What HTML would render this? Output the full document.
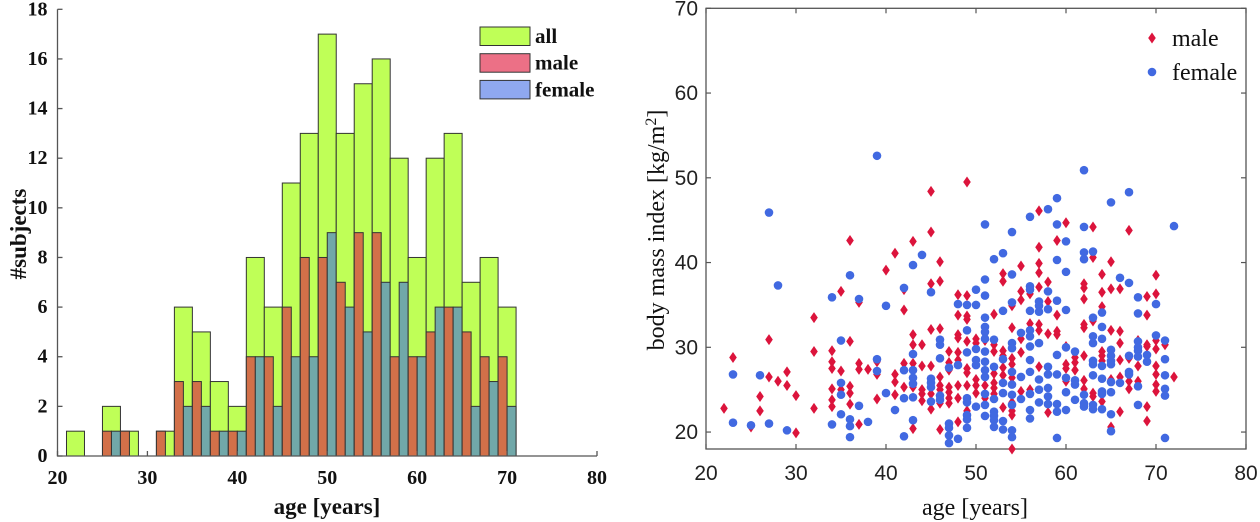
<!DOCTYPE html>
<html><head><meta charset="utf-8">
<style>
html,body{margin:0;padding:0;background:#fff;}
svg{display:block;}
.tl{font-family:"Liberation Serif",serif;font-weight:bold;font-size:20px;fill:#111;}
.tr{font-family:"Liberation Sans",sans-serif;font-size:21px;fill:#222;}
.lbl{font-family:"Liberation Serif",serif;font-size:24px;fill:#111;}
</style></head>
<body>
<svg id="root" width="1260" height="522" viewBox="0 0 1260 522" xmlns="http://www.w3.org/2000/svg">
<g id="hist"></g>
<g id="scat"></g>
</svg>
<script>
// ---------- Histogram data ----------
const binStarts = [21,23,25,27,29,31,33,35,37,39,41,43,45,47,49,51,53,55,57,59,61,63,65,67,69];
const allCounts = [1,0,2,1,0,1,6,5,3,2,8,6,11,13,17,13,15,16,12,8,12,13,7,8,6];
const maleCounts = [0,0,1,1,0,1,3,3,1,1,4,4,6,8,8,7,9,9,4,4,5,6,5,4,4];
const femaleCounts = [0,0,1,0,0,0,2,2,1,1,4,2,4,4,9,6,5,7,7,4,6,6,2,3,2];
const histYTicks = [0,2,4,6,8,10,12,14,16,18];
const histXTicks = [20,30,40,50,60,70,80];

// ---------- Scatter data ----------
const maleAge = [22,23,25,26,26,27,27,28,29,29,30,30,32,32,32,34,34,34,34,34,34,35,35,35,36,36,36,36,36,37,37,37,37,38,39,39,39,40,41,41,41,41,42,42,42,42,43,43,43,43,43,43,44,44,44,44,44,45,45,45,45,45,45,45,46,46,46,46,46,46,46,46,47,47,47,47,47,47,47,48,48,48,48,48,48,48,48,48,49,49,49,49,49,49,49,49,49,50,50,50,50,50,51,51,51,52,52,52,52,52,52,52,53,53,53,53,53,53,53,54,54,54,54,54,54,54,54,54,55,55,55,55,55,55,56,56,56,57,57,57,57,57,57,57,57,58,58,58,58,59,59,59,59,60,60,60,60,60,61,61,61,62,62,62,62,62,62,62,62,63,63,63,63,63,64,64,64,64,64,64,64,65,65,65,65,65,66,66,66,66,66,66,67,67,67,67,68,68,68,69,69,69,69,69,69,70,70,70,70,70,70,70,70,71,72];
const maleBmi = [22.8,28.8,20.6,24.2,22.5,30.9,26.5,26.0,27.1,25.5,24.3,19.9,33.5,29.5,22.8,29.6,28.3,27.5,25.1,23.8,23.0,36.6,27.2,25.0,42.6,30.7,25.4,24.6,23.3,35.3,28.1,27.4,20.9,27.4,28.3,26.8,23.9,39.1,41.1,26.8,25.9,24.4,36.8,34.4,28.1,25.3,42.5,31.5,30.3,28.1,25.3,20.4,30.3,27.8,25.0,24.5,23.7,48.4,43.6,37.5,32.1,27.8,24.5,22.7,40.1,37.8,32.2,26.5,25.5,25.0,23.4,20.3,29.5,28.2,27.3,25.3,24.7,24.0,23.4,36.2,33.8,31.5,31.1,29.4,28.5,25.5,24.0,21.2,49.5,36.1,33.7,33.3,30.7,27.5,27.0,25.5,22.5,31.0,30.5,26.2,25.5,24.6,30.8,25.5,24.0,33.9,30.3,29.5,26.9,25.8,25.2,24.5,38.7,37.8,29.6,29.0,27.6,26.7,22.9,34.9,32.3,28.7,28.0,26.4,23.5,22.5,22.0,18.0,39.6,36.6,35.6,31.0,29.4,24.8,36.3,32.8,25.0,46.1,41.8,39.9,38.8,37.1,32.7,32.0,27.7,37.7,35.4,31.6,22.3,42.6,33.8,31.9,31.5,44.7,30.1,28.0,27.5,26.0,28.8,28.2,27.3,37.5,37.0,35.7,32.7,32.3,29.0,26.1,25.1,44.2,40.6,33.1,24.6,24.2,38.6,36.5,34.8,29.5,29.0,28.4,23.6,40.1,36.9,32.0,26.2,20.6,36.9,31.9,30.5,28.5,26.5,22.4,43.8,28.7,26.0,25.1,30.8,27.8,26.0,36.0,33.8,30.3,30.1,23.0,21.3,38.5,36.3,30.8,29.8,27.8,26.8,25.6,24.8,30.3,26.5];
const femaleAge = [23,23,25,26,27,27,28,29,34,34,35,35,35,35,36,36,36,36,37,37,38,39,39,39,40,40,41,42,42,42,42,43,43,43,43,43,43,43,44,45,45,45,45,45,46,46,46,46,46,47,47,47,47,47,48,48,48,49,49,49,49,49,49,49,49,50,50,50,50,50,50,51,51,51,51,51,51,51,51,51,51,51,51,51,51,52,52,52,52,52,52,52,52,53,53,53,53,53,53,53,54,54,54,54,54,54,54,54,54,54,54,55,55,55,56,56,56,56,56,56,56,56,56,56,56,56,57,57,57,57,57,57,57,58,58,58,58,58,58,58,58,59,59,59,59,59,59,59,59,59,60,60,60,60,60,60,60,61,61,61,61,62,62,62,62,62,62,62,63,63,63,63,63,63,63,63,63,64,64,64,64,64,64,64,64,65,65,65,65,65,65,65,65,65,66,66,67,67,67,67,67,68,68,68,68,68,68,68,68,69,69,70,70,71,71,71,71,71,71,72];
const femaleBmi = [26.8,21.1,20.8,26.7,45.9,21.0,37.3,20.2,35.9,20.9,30.8,25.8,24.4,22.1,38.5,21.5,20.7,19.4,35.7,23.1,21.2,52.6,28.6,27.2,34.9,24.6,22.6,37.0,27.3,24.0,19.5,39.7,29.2,27.3,26.4,25.7,24.1,21.4,40.9,36.5,26.3,25.8,25.3,23.6,30.9,30.3,28.7,24.3,23.8,27.6,21.0,20.5,19.6,18.7,35.1,27.9,19.2,35.0,32.0,29.4,24.0,23.5,22.0,21.5,20.5,36.8,35.0,29.8,28.5,27.9,23.0,44.5,38.0,36.1,33.5,32.4,31.8,31.0,29.5,28.3,27.3,26.5,24.5,23.2,21.9,40.4,30.9,27.7,23.9,22.4,21.9,21.4,20.6,41.1,34.3,28.6,25.8,24.6,21.3,20.3,43.6,38.6,35.3,30.5,29.9,27.1,25.6,24.4,23.2,20.2,19.4,31.7,26.5,23.9,45.4,37.2,34.3,32.0,31.3,30.1,28.5,27.1,24.5,22.6,21.6,36.8,35.4,34.9,34.2,30.5,26.2,25.0,23.5,46.3,36.6,34.5,27.7,26.8,25.2,24.2,23.3,47.6,44.5,40.3,35.5,29.1,26.8,23.3,22.4,19.3,42.5,38.9,34.4,26.4,24.7,22.6,30.0,29.5,26.1,25.6,23.8,50.9,44.2,41.2,40.4,24.4,23.4,23.0,41.3,33.5,31.3,30.5,28.4,28.0,26.7,23.2,22.7,34.1,32.4,31.0,27.8,26.3,24.8,24.5,22.7,47.1,29.7,29.0,28.4,28.0,25.9,24.7,22.1,20.1,38.2,25.8,48.3,37.6,29.0,27.1,26.8,35.9,34.0,30.7,30.0,29.6,28.9,25.4,23.2,29.1,28.3,35.1,31.4,30.8,28.6,26.7,25.1,24.3,19.3,44.3];
const scatXTicks = [20,30,40,50,60,70,80];
const scatYTicks = [20,30,40,50,60,70];

const NS = "http://www.w3.org/2000/svg";
function mk(parent, tag, attrs, text){
  const e = document.createElementNS(NS, tag);
  for (const k in attrs) e.setAttribute(k, attrs[k]);
  if (text !== undefined) e.textContent = text;
  parent.appendChild(e);
  return e;
}

// ---------- Histogram ----------
(function(){
  const g = document.getElementById('hist');
  const X0 = 57.5, X1 = 597, Y0 = 456, Y1 = 9.3;
  const hx = v => X0 + (v - 20) / 60 * (X1 - X0);
  const hy = v => Y0 - v / 18 * (Y0 - Y1);
  const binW = 2;
  for (let i = 0; i < binStarts.length; i++) {
    if (allCounts[i] > 0) {
      const r = mk(g, 'rect', {x: hx(binStarts[i]), y: hy(allCounts[i]), width: hx(binStarts[i]+binW)-hx(binStarts[i]), height: hy(0)-hy(allCounts[i]), fill:'#bfff57', stroke:'#333', 'stroke-width':1});
      
      
    }
    if (maleCounts[i] > 0) {
      const r = mk(g, 'rect', {x: hx(binStarts[i]), y: hy(maleCounts[i]), width: hx(binStarts[i]+1)-hx(binStarts[i]), height: hy(0)-hy(maleCounts[i]), fill:'#d27049', stroke:'#333', 'stroke-width':1});
      
      
    }
    if (femaleCounts[i] > 0) {
      const r = mk(g, 'rect', {x: hx(binStarts[i]+1), y: hy(femaleCounts[i]), width: hx(binStarts[i]+2)-hx(binStarts[i]+1), height: hy(0)-hy(femaleCounts[i]), fill:'#71a8a9', stroke:'#333', 'stroke-width':1});
      
      
    }
  }
  const ax = mk(g, 'path', {d:`M${X0},${Y1} V${Y0} H${X1}`, fill:'none', stroke:'#555', 'stroke-width':1.3});
  
  
  histYTicks.forEach(t => {
    mk(g, 'line', {x1:X0, x2:X0+5, y1:hy(t), y2:hy(t), stroke:'#555', 'stroke-width':1.3});
    const tx = mk(g, 'text', {x:X0-10, y:hy(t)+6, 'text-anchor':'end', class:'tl'}, String(t));
    
    
  });
  histXTicks.forEach(t => {
    mk(g, 'line', {x1:hx(t), x2:hx(t), y1:Y0, y2:Y0-5, stroke:'#555', 'stroke-width':1.3});
    const tx = mk(g, 'text', {x:hx(t), y:Y0+28, 'text-anchor':'middle', class:'tl'}, String(t));
    
    
  });
  const xl = mk(g, 'text', {x:327, y:514, 'text-anchor':'middle', class:'tl', style:'font-size:23px'}, 'age [years]');
  
  
  const yl = mk(g, 'text', {x:0, y:0, 'text-anchor':'middle', class:'tl', style:'font-size:23px', transform:'translate(26,234) rotate(-90)'}, '#subjects');
  
  
  const legItems = [['all','#bfff57'],['male','#ec7086'],['female','#8fa8f0']];
  legItems.forEach((it, i) => {
    const y = 27 + i * 26.7;
    const sw = mk(g, 'rect', {x:480, y:y, width:50, height:18.5, fill:it[1], stroke:'#333', 'stroke-width':1});
    
    
    const tx = mk(g, 'text', {x:535, y:y+16, class:'tl', style:'font-size:21px'}, it[0]);
    
    
  });
})();

// ---------- Scatter ----------
(function(){
  const g = document.getElementById('scat');
  const X0 = 706, X1 = 1246, YT = 8.3, YB = 449;
  const sx = v => X0 + (v - 20) / 60 * (X1 - X0);
  const sy = v => YB - (v - 18) / 52 * (YB - YT);
  const box = mk(g, 'rect', {x:X0, y:YT, width:X1-X0, height:YB-YT, fill:'none', stroke:'#555', 'stroke-width':1.3});
  
  
  scatXTicks.forEach(t => {
    mk(g, 'line', {x1:sx(t), x2:sx(t), y1:YB, y2:YB-5, stroke:'#555', 'stroke-width':1.2});
    mk(g, 'line', {x1:sx(t), x2:sx(t), y1:YT, y2:YT+5, stroke:'#555', 'stroke-width':1.2});
    const tx = mk(g, 'text', {x:sx(t), y:YB+31, 'text-anchor':'middle', class:'tr'}, String(t));
    
    
  });
  scatYTicks.forEach(t => {
    mk(g, 'line', {x1:X0, x2:X0+5, y1:sy(t), y2:sy(t), stroke:'#555', 'stroke-width':1.2});
    mk(g, 'line', {x1:X1, x2:X1-5, y1:sy(t), y2:sy(t), stroke:'#555', 'stroke-width':1.2});
    const tx = mk(g, 'text', {x:X0-8, y:sy(t)+7, 'text-anchor':'end', class:'tr'}, String(t));
    
    
  });
  for (let i = 0; i < maleAge.length; i++) {
    const x = sx(maleAge[i]), y = sy(maleBmi[i]);
    const p = mk(g, 'path', {d:`M${x},${y-5.5} L${x+3.8},${y} L${x},${y+5.5} L${x-3.8},${y} Z`, fill:'#dc143c'});
    
    
  }
  for (let i = 0; i < femaleAge.length; i++) {
    const c = mk(g, 'circle', {cx:sx(femaleAge[i]), cy:sy(femaleBmi[i]), r:4.3, fill:'#4169e1'});
    
    
  }
  const xl = mk(g, 'text', {x:975, y:515, 'text-anchor':'middle', class:'lbl'}, 'age [years]');
  
  
  const yl = mk(g, 'text', {x:0, y:0, 'text-anchor':'middle', class:'lbl', transform:'translate(664,230) rotate(-90)'});
  
  
  yl.appendChild(document.createTextNode('body mass index [kg/m'));
  mk(yl, 'tspan', {'baseline-shift':'super', style:'font-size:16px'}, '2');
  mk(yl, 'tspan', {}, ']');
  const mx = 1152, my1 = 38, my2 = 72;
  const lm = mk(g, 'path', {d:`M${mx},${my1-5.5} L${mx+3.8},${my1} L${mx},${my1+5.5} L${mx-3.8},${my1} Z`, fill:'#dc143c'});
  
  
  const lt1 = mk(g, 'text', {x:1172, y:my1+8, class:'lbl'}, 'male');
  
  
  const lf = mk(g, 'circle', {cx:mx, cy:my2, r:4.3, fill:'#4169e1'});
  
  
  const lt2 = mk(g, 'text', {x:1172, y:my2+8, class:'lbl'}, 'female');
  
  
})();
</script>
</body></html>
